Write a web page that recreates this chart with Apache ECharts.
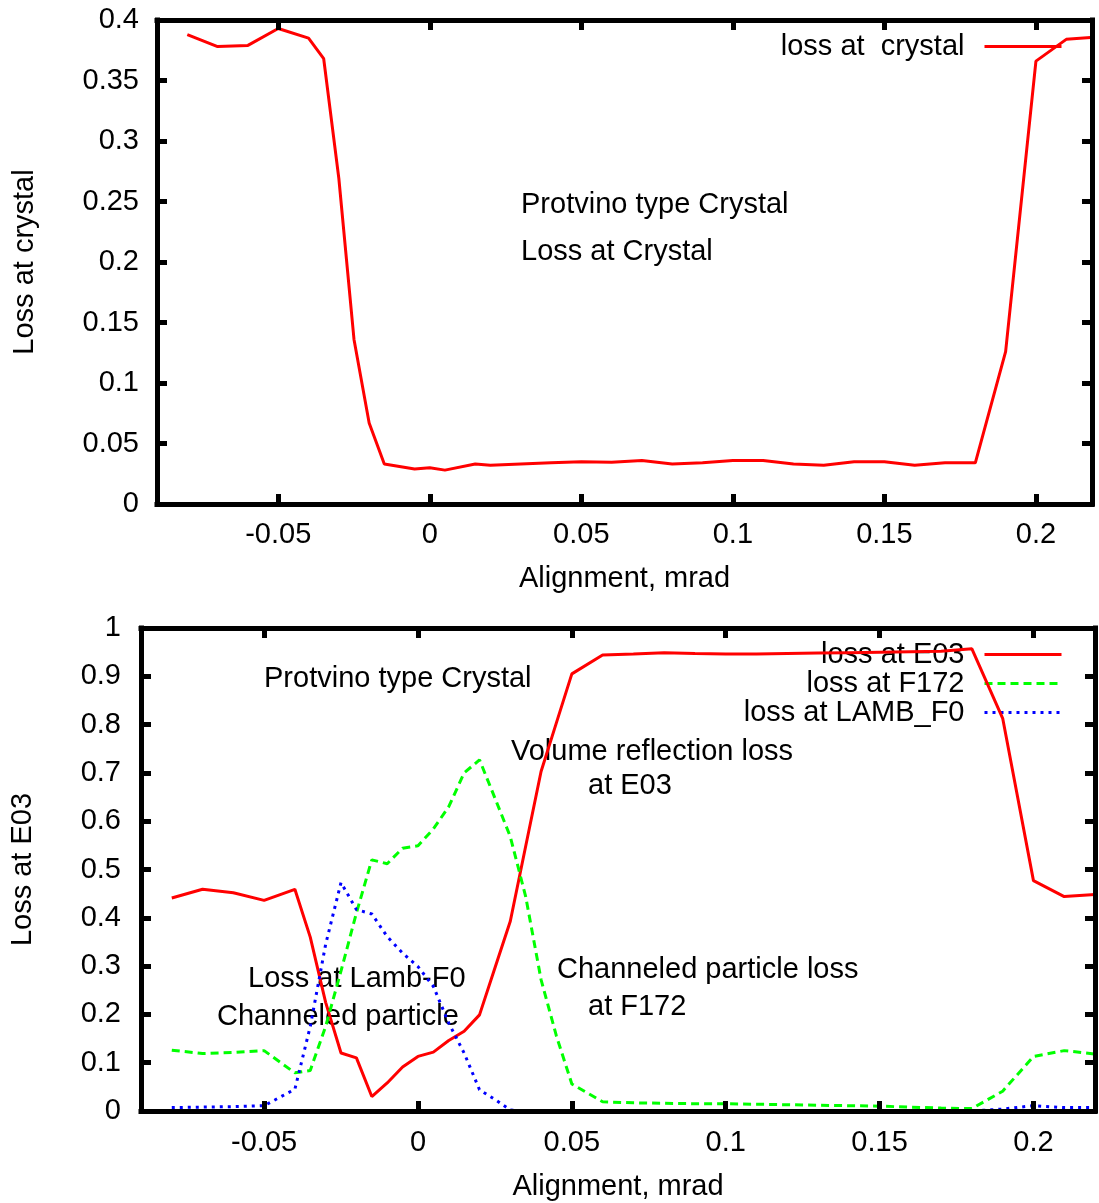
<!DOCTYPE html>
<html>
<head>
<meta charset="utf-8">
<script src="https://cdn.jsdelivr.net/npm/echarts@6/dist/echarts.min.js"></script>
<style>
	html, body { margin: 0; padding: 0; background: #fff; }
	#chart { width: 1099px; height: 1203px; }
</style>
</head>
<body>
<div id="chart"></div>
<script>
// top panel: loss at crystal
var xTop = [-0.08, -0.07, -0.06, -0.05, -0.04, -0.035, -0.03, -0.025, -0.02, -0.015, -0.005, 0, 0.005, 0.015, 0.02,
	0.03, 0.04, 0.05, 0.06, 0.07, 0.08, 0.09, 0.1, 0.11, 0.12, 0.13, 0.14, 0.15, 0.16, 0.17, 0.18, 0.19, 0.2, 0.21, 0.22];
var lossCrystal = [0.388, 0.378, 0.379, 0.393, 0.385, 0.368, 0.269, 0.136, 0.067, 0.033, 0.029, 0.030, 0.028, 0.033, 0.032,
	0.033, 0.034, 0.035, 0.0345, 0.036, 0.033, 0.034, 0.036, 0.036, 0.033, 0.032, 0.035, 0.035, 0.032, 0.034, 0.034, 0.126, 0.366, 0.384, 0.386];

// bottom panel: losses at E03, F172, LAMB_F0
var xBot = [-0.08, -0.07, -0.06, -0.05, -0.04, -0.035, -0.03, -0.025, -0.02, -0.015, -0.01, -0.005, 0, 0.005, 0.01,
	0.015, 0.02, 0.025, 0.03, 0.035, 0.04, 0.045, 0.05, 0.06, 0.07, 0.08, 0.09, 0.1, 0.11, 0.12, 0.13, 0.14, 0.15,
	0.16, 0.17, 0.18, 0.19, 0.2, 0.21, 0.22];
var lossE03 = [0.441, 0.459, 0.452, 0.436, 0.459, 0.360, 0.225, 0.120, 0.110, 0.030, 0.058, 0.091, 0.113, 0.122, 0.146,
	0.165, 0.199, 0.296, 0.393, 0.548, 0.703, 0.804, 0.905, 0.944, 0.946, 0.949, 0.947, 0.946, 0.946, 0.947, 0.948, 0.949, 0.950,
	0.951, 0.952, 0.957, 0.813, 0.477, 0.444, 0.448];
var lossF172 = [0.126, 0.119, 0.121, 0.125, 0.079, 0.084, 0.175, 0.290, 0.410, 0.520, 0.512, 0.544, 0.549, 0.584, 0.630,
	0.700, 0.727, 0.648, 0.568, 0.444, 0.272, 0.155, 0.056, 0.019, 0.017, 0.016, 0.015, 0.015, 0.014, 0.013, 0.012, 0.011, 0.010,
	0.008, 0.006, 0.005, 0.041, 0.113, 0.125, 0.118];
var lossLamb = [0.007, 0.008, 0.009, 0.011, 0.045, 0.175, 0.345, 0.473, 0.417, 0.408, 0.361, 0.327, 0.299, 0.258, 0.182,
	0.120, 0.044, 0.024, 0.002, 0, 0, 0, 0, 0, 0, 0, 0, 0, 0, 0, 0, 0, 0,
	0, 0, 0, 0.004, 0.011, 0.007, 0.007];

var xTicks = [-0.05, 0, 0.05, 0.1, 0.15, 0.2];

var FONT = '"Liberation Sans", Arial, sans-serif';
var FS = 29;

function pairs(xs, ys) {
	return xs.map(function (x, i) { return [x, ys[i]]; });
}

// gnuplot-like frame: thick black axis line, inward ticks on every side
var frameLine = { show: true, onZero: false, lineStyle: { color: '#000', width: 5, cap: 'square' } };

function xAxisOf(grid, pos, min, max, name, gap, margin) {
	return {
		gridIndex: grid,
		type: 'value',
		position: pos,
		min: min,
		max: max,
		z: 5,
		name: name,
		nameLocation: 'middle',
		nameGap: gap,
		nameTextStyle: { fontFamily: FONT, fontSize: FS, color: '#000' },
		axisLine: frameLine,
		axisTick: { inside: true, length: 10, customValues: xTicks, lineStyle: { color: '#000', width: 5 } },
		axisLabel: { show: pos === 'bottom', customValues: xTicks, margin: margin, fontFamily: FONT, fontSize: FS, color: '#000' },
		splitLine: { show: false }
	};
}

function yAxisOf(grid, pos, max, step, name, gap, margin) {
	return {
		gridIndex: grid,
		type: 'value',
		position: pos,
		min: 0,
		max: max,
		interval: step,
		z: 5,
		name: name,
		nameLocation: 'middle',
		nameGap: gap,
		nameRotate: 90,
		nameTextStyle: { fontFamily: FONT, fontSize: FS, color: '#000' },
		axisLine: frameLine,
		axisTick: { inside: true, length: 10, lineStyle: { color: '#000', width: 5 } },
		axisLabel: { show: pos === 'left', margin: margin, fontFamily: FONT, fontSize: FS, color: '#000' },
		splitLine: { show: false }
	};
}

function note(x, y, text) {
	return {
		type: 'text', x: x, y: y + 2, z: 1,
		style: { text: text, font: FS + 'px ' + FONT, fill: '#000', verticalAlign: 'middle' }
	};
}

function legendOf(top, names) {
	return {
		right: 31, top: top, orient: 'vertical', align: 'right', z: 1,
		itemWidth: 77, itemHeight: 28, itemGap: 0,
		lineStyle: { width: 3 },
		itemStyle: { opacity: 0 },
		textStyle: { fontFamily: FONT, fontSize: FS, color: '#000', padding: [0, 15, 0, 0] },
		data: names
	};
}

var chart = echarts.init(document.getElementById('chart'));

var option = {
	backgroundColor: '#fff',
	animation: false,
	grid: [
		{ left: 157, right: 7, top: 20, height: 484 },
		{ left: 141, right: 4, top: 628, height: 483 }
	],
	xAxis: [
		xAxisOf(0, 'bottom', -0.09, 0.2185, 'Alignment, mrad', 60, 16),
		xAxisOf(0, 'top', -0.09, 0.2185, '', 0, 0),
		xAxisOf(1, 'bottom', -0.09, 0.22, 'Alignment, mrad', 61, 17),
		xAxisOf(1, 'top', -0.09, 0.22, '', 0, 0)
	],
	yAxis: [
		yAxisOf(0, 'left', 0.4, 0.05, 'Loss at crystal', 118, 18),
		yAxisOf(0, 'right', 0.4, 0.05, '', 0, 0),
		yAxisOf(1, 'left', 1, 0.1, 'Loss at E03', 104, 20),
		yAxisOf(1, 'right', 1, 0.1, '', 0, 0)
	],
	legend: [
		legendOf(27, ['loss at  crystal']),
		legendOf(635, ['loss at E03', 'loss at F172', 'loss at LAMB_F0'])
	],
	graphic: [
		note(521, 203, 'Protvino type Crystal'),
		note(521, 250, 'Loss at Crystal'),
		note(264, 677, 'Protvino type Crystal'),
		note(511, 750, 'Volume reflection loss'),
		note(588, 784, 'at E03'),
		note(557, 968, 'Channeled particle loss'),
		note(588, 1005, 'at F172'),
		note(248, 977, 'Loss at Lamb-F0'),
		note(217, 1015, 'Channeled particle')
	],
	series: [
		{
			name: 'loss at  crystal', type: 'line', xAxisIndex: 0, yAxisIndex: 0,
			symbol: 'none', lineStyle: { color: '#ff0000', width: 3 }, itemStyle: { color: '#ff0000' },
			data: pairs(xTop, lossCrystal)
		},
		{
			name: 'loss at E03', type: 'line', xAxisIndex: 2, yAxisIndex: 2,
			symbol: 'none', lineStyle: { color: '#ff0000', width: 3 }, itemStyle: { color: '#ff0000' },
			data: pairs(xBot, lossE03)
		},
		{
			name: 'loss at F172', type: 'line', xAxisIndex: 2, yAxisIndex: 2,
			symbol: 'none', lineStyle: { color: '#00ff00', width: 3, type: [8, 5] }, itemStyle: { color: '#00ff00' },
			data: pairs(xBot, lossF172)
		},
		{
			name: 'loss at LAMB_F0', type: 'line', xAxisIndex: 2, yAxisIndex: 2,
			symbol: 'none', lineStyle: { color: '#0000ff', width: 3, type: [3, 5] }, itemStyle: { color: '#0000ff' },
			data: pairs(xBot, lossLamb)
		}
	]
};

chart.setOption(option);
</script>
</body>
</html>
